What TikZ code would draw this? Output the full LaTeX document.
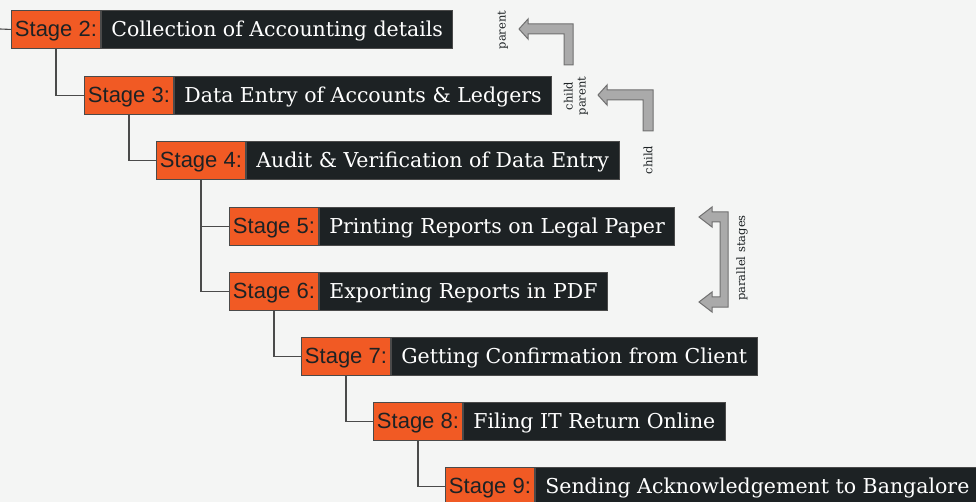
\documentclass[tikz,border=0pt]{standalone}
\usepackage{fontspec}
\newfontfamily\labfont{Liberation Sans}
\newfontfamily\descfont{DejaVu Serif}
\newfontfamily\smallfont{DejaVu Serif}
\definecolor{bg}{HTML}{F4F5F4}
\definecolor{org}{HTML}{F15A24}
\definecolor{drk}{HTML}{1D2224}
\definecolor{edge}{HTML}{4A4A4A}
\definecolor{arrfill}{HTML}{AAAAAA}
\definecolor{arredge}{HTML}{707070}
\tikzset{
  lab/.style={draw=edge, line width=0.9pt, fill=org, text=drk, font=\labfont\fontsize{22}{24}\selectfont,
    minimum width=89pt, minimum height=38pt, inner sep=0pt, text height=17pt, text depth=2pt, anchor=north west},
  desc/.style={draw=edge, line width=0.9pt, fill=drk, text=white, font=\descfont\fontsize{20.5}{24}\selectfont,
    minimum height=38pt, inner xsep=10pt, inner ysep=0pt, text height=17pt, text depth=2pt, anchor=west},
  conn/.style={draw=edge, line width=1.1pt},
  blockarrow/.style={fill=arrfill, draw=arredge, line width=1pt},
  note/.style={font=\smallfont\fontsize{11.5}{13}\selectfont, text=drk, rotate=90, align=center, inner sep=0pt}
}
\begin{document}
\begin{tikzpicture}[x=1pt,y=-1pt]
\fill[bg] (0,0) rectangle (976,502);
\useasboundingbox (0,0) rectangle (976,502);
% stages
\node[lab] (s2) at (11,10) {Stage 2:};
\node[desc] (d2) at (s2.east) {Collection of Accounting details};
\node[lab] (s3) at (84,76) {Stage 3:};
\node[desc] (d3) at (s3.east) {Data Entry of Accounts \& Ledgers};
\node[lab] (s4) at (156,141) {Stage 4:};
\node[desc] (d4) at (s4.east) {Audit \& Verification of Data Entry};
\node[lab] (s5) at (229,207) {Stage 5:};
\node[desc] (d5) at (s5.east) {Printing Reports on Legal Paper};
\node[lab] (s6) at (229,272) {Stage 6:};
\node[desc] (d6) at (s6.east) {Exporting Reports in PDF};
\node[lab] (s7) at (301,337) {Stage 7:};
\node[desc] (d7) at (s7.east) {Getting Confirmation from Client};
\node[lab] (s8) at (373,402) {Stage 8:};
\node[desc] (d8) at (s8.east) {Filing IT Return Online};
\node[lab] (s9) at (445,467) {Stage 9:};
\node[desc] (d9) at (s9.east) {Sending Acknowledgement to Bangalore};
% connectors
\coordinate (start) at (0,29);
\draw[conn] (start) -- (s2.west);
\draw[conn] (s2.south) |- (s3.west);
\draw[conn] (s3.south) |- (s4.west);
\draw[conn] (s4.south) |- (s5.west);
\draw[conn] (s4.south) |- (s6.west);
\draw[conn] (s6.south) |- (s7.west);
\draw[conn] (s7.south) |- (s8.west);
\draw[conn] (s8.south) |- (s9.west);
% block arrows
\draw[blockarrow] (519,29) -- (528,19) -- (528,24) -- (573,24) -- (573,65) -- (564,65) -- (564,34) -- (528,34) -- (528,39) -- cycle;
\draw[blockarrow] (598,95) -- (607,85) -- (607,90) -- (653,90) -- (653,131) -- (643,131) -- (643,100) -- (607,100) -- (607,105) -- cycle;
\draw[blockarrow] (699,217) -- (712,207) -- (712,212) -- (728,212) -- (728,307) -- (712,307) -- (712,312) -- (699,302) -- (712,292) -- (712,297) -- (720,297) -- (720,222) -- (712,222) -- (712,227) -- cycle;
% notes
\node[note] (n1) at (503,30) {parent};
\node[note] (n2) at (576,96) {child\\parent};
\node[note] (n3) at (648,160) {child};
\node[note] (n4) at (742,258) {parallel stages};
\end{tikzpicture}
\end{document}
